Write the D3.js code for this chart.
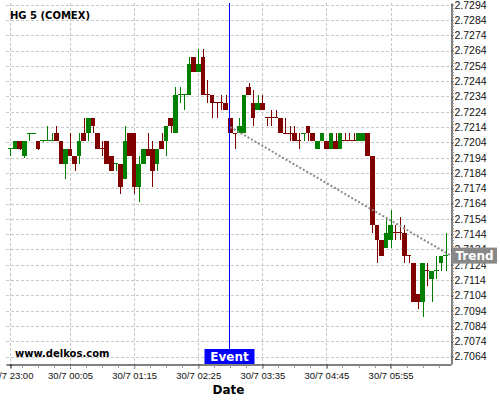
<!DOCTYPE html>
<html>
<head>
<meta charset="utf-8">
<script src="https://cdn.jsdelivr.net/npm/d3@7/dist/d3.min.js"></script>
<style>
  body { margin: 0; background: #fff; }
  svg  { display: block; font-family: "DejaVu Sans", sans-serif; }
</style>
</head>
<body>
<svg id="chart" width="500" height="400"></svg>
<script>
/* HG 5 (COMEX) — 5 minute candles with event marker and trend line */

const TITLE   = "HG 5 (COMEX)";
const SOURCE  = "www.delkos.com";
const START   = Date.UTC(2020, 6, 29, 23, 0);   // first bar, 29/7 23:00
const BAR_MIN = 5;                              // one candle every 5 minutes

const opens = [
  2.7200, 2.7200, 2.7205, 2.7195, 2.7210, 2.7210, 2.7205, 2.7205, 2.7205, 2.7205,
  2.7210, 2.7205, 2.7190, 2.7200, 2.7195, 2.7195, 2.7210, 2.7210, 2.7220, 2.7210,
  2.7200, 2.7205, 2.7195, 2.7190, 2.7190, 2.7180, 2.7210, 2.7210, 2.7175, 2.7190,
  2.7200, 2.7200, 2.7190, 2.7205, 2.7205, 2.7220, 2.7210, 2.7235, 2.7235, 2.7235,
  2.7260, 2.7250, 2.7260, 2.7235, 2.7235, 2.7230, 2.7230, 2.7230, 2.7220, 2.7210,
  2.7210, 2.7210, 2.7240, 2.7230, 2.7225, 2.7230, 2.7220, 2.7220, 2.7220, 2.7220,
  2.7210, 2.7210, 2.7210, 2.7205, 2.7210, 2.7215, 2.7210, 2.7200, 2.7205, 2.7205,
  2.7200, 2.7205, 2.7200, 2.7205, 2.7205, 2.7205, 2.7205, 2.7205, 2.7210, 2.7195,
  2.7150, 2.7140, 2.7135, 2.7140, 2.7145, 2.7145, 2.7145, 2.7130, 2.7125, 2.7105,
  2.7100, 2.7120, 2.7115, 2.7120, 2.7125, 2.7130
];
const highs = [
  2.7200, 2.7205, 2.7205, 2.7205, 2.7210, 2.7210, 2.7205, 2.7205, 2.7215, 2.7210,
  2.7215, 2.7205, 2.7200, 2.7210, 2.7195, 2.7210, 2.7220, 2.7220, 2.7220, 2.7210,
  2.7205, 2.7205, 2.7195, 2.7190, 2.7190, 2.7215, 2.7210, 2.7210, 2.7195, 2.7200,
  2.7210, 2.7205, 2.7200, 2.7210, 2.7215, 2.7220, 2.7240, 2.7240, 2.7235, 2.7260,
  2.7260, 2.7265, 2.7265, 2.7245, 2.7235, 2.7230, 2.7235, 2.7235, 2.7220, 2.7210,
  2.7220, 2.7235, 2.7243, 2.7238, 2.7235, 2.7235, 2.7220, 2.7225, 2.7225, 2.7220,
  2.7220, 2.7215, 2.7215, 2.7210, 2.7210, 2.7215, 2.7210, 2.7205, 2.7210, 2.7205,
  2.7210, 2.7210, 2.7210, 2.7210, 2.7210, 2.7210, 2.7210, 2.7210, 2.7210, 2.7195,
  2.7150, 2.7140, 2.7155, 2.7160, 2.7150, 2.7155, 2.7150, 2.7130, 2.7125, 2.7105,
  2.7125, 2.7125, 2.7120, 2.7130, 2.7130, 2.7145
];
const lows = [
  2.7195, 2.7200, 2.7199, 2.7194, 2.7205, 2.7210, 2.7199, 2.7205, 2.7205, 2.7205,
  2.7205, 2.7190, 2.7180, 2.7195, 2.7185, 2.7190, 2.7205, 2.7205, 2.7210, 2.7200,
  2.7195, 2.7190, 2.7185, 2.7185, 2.7170, 2.7180, 2.7195, 2.7170, 2.7165, 2.7190,
  2.7195, 2.7175, 2.7185, 2.7200, 2.7195, 2.7210, 2.7210, 2.7230, 2.7225, 2.7235,
  2.7250, 2.7250, 2.7235, 2.7230, 2.7220, 2.7220, 2.7225, 2.7225, 2.7210, 2.7200,
  2.7210, 2.7210, 2.7235, 2.7215, 2.7225, 2.7225, 2.7215, 2.7215, 2.7220, 2.7210,
  2.7210, 2.7205, 2.7205, 2.7200, 2.7205, 2.7205, 2.7205, 2.7200, 2.7205, 2.7200,
  2.7200, 2.7200, 2.7200, 2.7205, 2.7205, 2.7205, 2.7205, 2.7205, 2.7195, 2.7145,
  2.7125, 2.7130, 2.7135, 2.7135, 2.7140, 2.7140, 2.7125, 2.7125, 2.7100, 2.7095,
  2.7090, 2.7110, 2.7100, 2.7115, 2.7120, 2.7120
];
const closes = [
  2.7200, 2.7205, 2.7200, 2.7205, 2.7210, 2.7210, 2.7200, 2.7205, 2.7205, 2.7205,
  2.7205, 2.7190, 2.7200, 2.7195, 2.7190, 2.7205, 2.7205, 2.7220, 2.7215, 2.7200,
  2.7200, 2.7190, 2.7185, 2.7190, 2.7175, 2.7205, 2.7195, 2.7175, 2.7190, 2.7200,
  2.7195, 2.7185, 2.7200, 2.7200, 2.7215, 2.7215, 2.7235, 2.7235, 2.7235, 2.7255,
  2.7250, 2.7255, 2.7235, 2.7235, 2.7230, 2.7230, 2.7230, 2.7225, 2.7210, 2.7210,
  2.7215, 2.7235, 2.7235, 2.7220, 2.7230, 2.7225, 2.7220, 2.7220, 2.7220, 2.7210,
  2.7210, 2.7210, 2.7205, 2.7205, 2.7210, 2.7210, 2.7205, 2.7205, 2.7210, 2.7200,
  2.7210, 2.7200, 2.7210, 2.7205, 2.7205, 2.7205, 2.7210, 2.7210, 2.7195, 2.7150,
  2.7140, 2.7130, 2.7145, 2.7150, 2.7145, 2.7145, 2.7130, 2.7130, 2.7100, 2.7100,
  2.7125, 2.7120, 2.7120, 2.7120, 2.7130, 2.7130
];

// axis ticks
const yTicks = [
  2.7064, 2.7074, 2.7084, 2.7094, 2.7104, 2.7114, 2.7124, 2.7134, 2.7144, 2.7154,
  2.7164, 2.7174, 2.7184, 2.7194, 2.7204, 2.7214, 2.7224, 2.7234, 2.7244, 2.7254,
  2.7264, 2.7274, 2.7284, 2.7294
];
const xTicks = [
  Date.UTC(2020, 6, 29, 23, 0),
  Date.UTC(2020, 6, 30, 0, 5),
  Date.UTC(2020, 6, 30, 1, 15),
  Date.UTC(2020, 6, 30, 2, 25),
  Date.UTC(2020, 6, 30, 3, 35),
  Date.UTC(2020, 6, 30, 4, 45),
  Date.UTC(2020, 6, 30, 5, 55)
];

// event marker (bar index) and trend line (bar index -> price)
const EVENT_BAR   = 48;
const trendBars   = [48, 96.2];
const trendPrices = [2.7214, 2.7130];

// ── Layout ──
const LEFT = 6, RIGHT = 451, TOP = 3, BOTTOM = 364;
const MIN  = 60 * 1000;
const UP   = "#008000", DOWN = "#800000";
const GRID = "#c8c8c8";

const svg = d3.select("#chart");

const x = d3.scaleUtc()
  .domain([START - 4.9 * MIN, START + 481 * MIN])
  .range([LEFT, RIGHT]);

const y = d3.scaleLinear()
  .domain([2.705916, 2.72951])
  .range([BOTTOM, TOP]);

const barTime = i => START + i * BAR_MIN * MIN;
const barW = x(barTime(1)) - x(barTime(0));

// ── Grid ──
const grid = svg.append("g").attr("stroke", GRID).attr("stroke-dasharray", "3,2");
grid.selectAll(".hg").data(yTicks).join("line")
  .attr("x1", LEFT).attr("x2", RIGHT)
  .attr("y1", d => Math.round(y(d)) + 0.5)
  .attr("y2", d => Math.round(y(d)) + 0.5);
grid.selectAll(".vg").data(xTicks).join("line")
  .attr("y1", TOP).attr("y2", BOTTOM)
  .attr("x1", d => Math.round(x(d)) + 0.5)
  .attr("x2", d => Math.round(x(d)) + 0.5);

// ── Candles ──
// colour: up/down vs open; a flat bar keeps the direction of the move from the last close
let dir = true;
const bars = opens.map((o, i) => {
  const c = closes[i];
  if (c > o) dir = true;
  else if (c < o) dir = false;
  else if (i > 0 && c !== closes[i - 1]) dir = c > closes[i - 1];
  return { i, o, h: highs[i], l: lows[i], c, up: dir };
});

const cg = svg.append("g").attr("shape-rendering", "crispEdges");
bars.forEach(b => {
  const cx = x(barTime(b.i));
  const col = b.up ? UP : DOWN;
  // wick
  cg.append("rect")
    .attr("x", Math.round(cx) - 0.5).attr("width", 1.2)
    .attr("y", y(b.h)).attr("height", Math.max(1, y(b.l) - y(b.h)))
    .attr("fill", col);
  // body
  const top = y(Math.max(b.o, b.c)), bot = y(Math.min(b.o, b.c));
  cg.append("rect")
    .attr("x", cx - barW / 2).attr("width", barW)
    .attr("y", b.o === b.c ? top - 0.5 : top)
    .attr("height", Math.max(1, bot - top))
    .attr("fill", col);
});

// ── Trend line ──
const trendLine = d3.line()
  .x(d => x(barTime(d[0])))
  .y(d => y(d[1]));
svg.append("path")
  .attr("d", trendLine(d3.zip(trendBars, trendPrices)))
  .attr("fill", "none")
  .attr("stroke", "#8a8a8a")
  .attr("stroke-width", 2)
  .attr("stroke-dasharray", "2,2");

// ── Axes ──
const yAxis = d3.axisRight(y)
  .tickValues(yTicks)
  .tickFormat(d3.format(".4f"))
  .tickSize(2).tickSizeOuter(0).tickPadding(1);
const ya = svg.append("g")
  .attr("transform", `translate(${RIGHT + 0.5},0)`)
  .call(yAxis);
ya.selectAll("text").attr("font-size", "10.5px").attr("fill", "#111");
ya.select(".domain").attr("stroke", "#000");

// minor ticks on price axis
svg.append("g").selectAll("line")
  .data(d3.range(0, 5 * (yTicks.length - 1) + 1).map(k => 2.7064 + k * 0.0002)
    .filter(v => y(v) > TOP && y(v) < BOTTOM))
  .join("line")
  .attr("x1", RIGHT + 1).attr("x2", RIGHT + 3)
  .attr("y1", d => Math.round(y(d)) + 0.5).attr("y2", d => Math.round(y(d)) + 0.5)
  .attr("stroke", "#999");

const xAxis = d3.axisBottom(x)
  .tickValues(xTicks)
  .tickFormat(d3.utcFormat("%d/%-m %H:%M"))
  .tickSize(4).tickSizeOuter(0).tickPadding(4);
const xa = svg.append("g")
  .attr("transform", `translate(0,${BOTTOM + 0.5})`)
  .call(xAxis);
xa.selectAll("text").attr("font-size", "9.5px").attr("fill", "#111");
xa.select(".domain").attr("stroke", "#000");

// minor ticks on time axis (quarter of a 70 minute step)
svg.append("g").selectAll("line")
  .data(d3.range(-3, 28).map(k => xTicks[1] + k * 17.5 * MIN)
    .filter(t => x(t) > LEFT && x(t) < RIGHT))
  .join("line")
  .attr("x1", d => Math.round(x(d)) + 0.5).attr("x2", d => Math.round(x(d)) + 0.5)
  .attr("y1", BOTTOM + 1).attr("y2", BOTTOM + 4)
  .attr("stroke", "#999");

// ── Event marker ──
const ex = Math.round(x(barTime(EVENT_BAR))) - 0.5;
svg.append("line")
  .attr("x1", ex).attr("x2", ex)
  .attr("y1", TOP).attr("y2", BOTTOM - 15)
  .attr("stroke", "#0000ff");
svg.append("rect")
  .attr("x", ex - 25).attr("y", BOTTOM - 15)
  .attr("width", 50).attr("height", 15)
  .attr("fill", "#0000ff");
svg.append("text")
  .attr("x", ex).attr("y", BOTTOM - 3)
  .attr("text-anchor", "middle")
  .attr("font-size", "12px").attr("font-weight", "bold")
  .attr("fill", "#fff")
  .text("Event");

// ── Trend label on the price axis ──
const ty = y(trendPrices[1]);
svg.append("rect")
  .attr("x", RIGHT + 1).attr("y", ty - 8)
  .attr("width", 45).attr("height", 16)
  .attr("fill", "#888");
svg.append("text")
  .attr("x", RIGHT + 23.5).attr("y", ty + 4.5)
  .attr("text-anchor", "middle")
  .attr("font-size", "12px").attr("font-weight", "bold")
  .attr("fill", "#fff")
  .text("Trend");

// ── Titles ──
svg.append("text")
  .attr("x", 10).attr("y", 19)
  .attr("font-size", "10px").attr("font-weight", "bold")
  .text(TITLE);
svg.append("text")
  .attr("x", 15).attr("y", 357)
  .attr("font-size", "10px").attr("font-weight", "bold")
  .text(SOURCE);
svg.append("text")
  .attr("x", (LEFT + RIGHT) / 2).attr("y", 394)
  .attr("text-anchor", "middle")
  .attr("font-size", "12px").attr("font-weight", "bold")
  .text("Date");
</script>
</body>
</html>
